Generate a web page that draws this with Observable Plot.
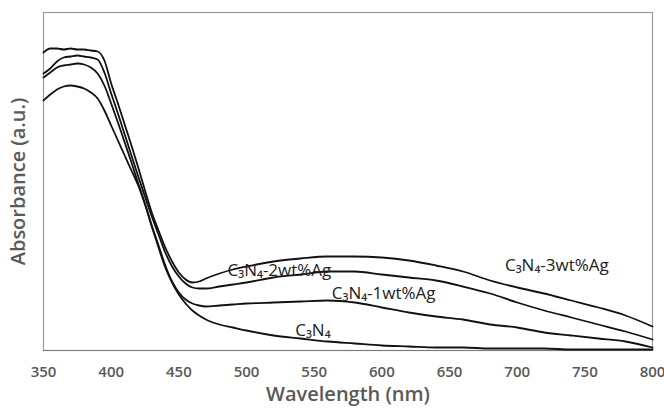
<!DOCTYPE html>
<html>
<head>
<meta charset="utf-8">
<script src="https://cdn.jsdelivr.net/npm/d3@7"></script>
<script src="https://cdn.jsdelivr.net/npm/@observablehq/plot@0.6"></script>
<style>
  html, body { margin: 0; padding: 0; background: #fff; }
  #chart svg { display: block; }
</style>
</head>
<body>
<div id="chart"></div>
<script>
const wavelengths = [350,355,360,365,370,375,380,385,390,395,400,405,410,415,420,425,430,435,440,445,450,455,460,465,470,480,490,500,520,540,560,580,600,620,640,660,680,700,720,740,760,780,800];

const ag3 = [2.98,3.02,3.02,3.01,3.02,3.01,3.01,3.00,2.99,2.90,2.67,2.47,2.26,2.05,1.83,1.60,1.38,1.20,1.03,0.89,0.78,0.71,0.68,0.69,0.72,0.77,0.81,0.84,0.89,0.92,0.94,0.94,0.93,0.90,0.85,0.79,0.70,0.63,0.57,0.50,0.43,0.35,0.24];
const ag2 = [2.77,2.82,2.89,2.93,2.94,2.95,2.94,2.93,2.91,2.78,2.57,2.37,2.16,1.95,1.74,1.54,1.34,1.16,0.98,0.84,0.74,0.67,0.63,0.62,0.62,0.64,0.66,0.68,0.73,0.76,0.79,0.79,0.76,0.73,0.70,0.64,0.57,0.48,0.40,0.33,0.26,0.19,0.11];
const ag1 = [2.73,2.78,2.83,2.85,2.86,2.87,2.86,2.83,2.77,2.65,2.47,2.28,2.08,1.88,1.67,1.47,1.25,1.05,0.85,0.69,0.58,0.51,0.47,0.45,0.44,0.45,0.46,0.47,0.48,0.49,0.50,0.48,0.43,0.38,0.34,0.31,0.26,0.23,0.18,0.15,0.12,0.09,0.03];
const pure = [2.50,2.56,2.61,2.64,2.65,2.64,2.62,2.58,2.52,2.40,2.25,2.10,1.95,1.80,1.65,1.46,1.24,1.03,0.83,0.68,0.56,0.47,0.40,0.35,0.31,0.26,0.23,0.20,0.15,0.12,0.09,0.07,0.05,0.04,0.03,0.03,0.02,0.02,0.02,0.01,0.01,0.01,0.01];

const seriesNames = ["C₃N₄-3wt%Ag", "C₃N₄-2wt%Ag", "C₃N₄-1wt%Ag", "C₃N₄"];
const seriesValues = [ag3, ag2, ag1, pure];

const xTicks = [350,400,450,500,550,600,650,700,750,800];

const labelText = ["C₃N₄-3wt%Ag", "C₃N₄-2wt%Ag", "C₃N₄-1wt%Ag", "C₃N₄"];
const labelX = [691, 486, 563, 536];
const labelY = [0.85, 0.80, 0.57, 0.20];

const rows = [];
seriesNames.forEach((name, i) => {
  wavelengths.forEach((w, j) => rows.push({series: name, wavelength: w, absorbance: seriesValues[i][j]}));
});
const labels = labelText.map((t, i) => ({text: t, x: labelX[i], y: labelY[i]}));

const chart = Plot.plot({
  width: 664,
  height: 414,
  marginLeft: 43,
  marginRight: 12,
  marginTop: 12,
  marginBottom: 64,
  style: {fontFamily: "'Open Sans', sans-serif", color: "#595959", background: "#fff"},
  x: {domain: [350, 800]},
  y: {domain: [0, 3.38], axis: null},
  marks: [
    Plot.frame({stroke: "#9a9a9a", strokeWidth: 1.2}),
    Plot.ruleY([0], {stroke: "#7a7a7a", strokeWidth: 1.2}),
    Plot.axisX({ticks: xTicks, tickSize: 0, tickPadding: 16, fontSize: 15, fontWeight: 600, label: null}),
    Plot.text(["Wavelength (nm)"], {frameAnchor: "bottom", textAnchor: "middle", dy: 50, fontSize: 20, fontWeight: 600, fill: "#595959"}),
    Plot.text(["Absorbance (a.u.)"], {frameAnchor: "left", textAnchor: "middle", rotate: -90, dx: -25, fontSize: 20, fontWeight: 600, fill: "#595959"}),
    Plot.line(rows, {x: "wavelength", y: "absorbance", z: "series", stroke: "#111", strokeWidth: 1.8, curve: "monotone-x"}),
    Plot.text(labels, {x: "x", y: "y", text: "text", textAnchor: "start", fontSize: 17, fill: "#222", fontFamily: "'Open Sans', 'Noto Sans', sans-serif"})
  ]
});
document.getElementById("chart").appendChild(chart);
</script>
</body>
</html>
